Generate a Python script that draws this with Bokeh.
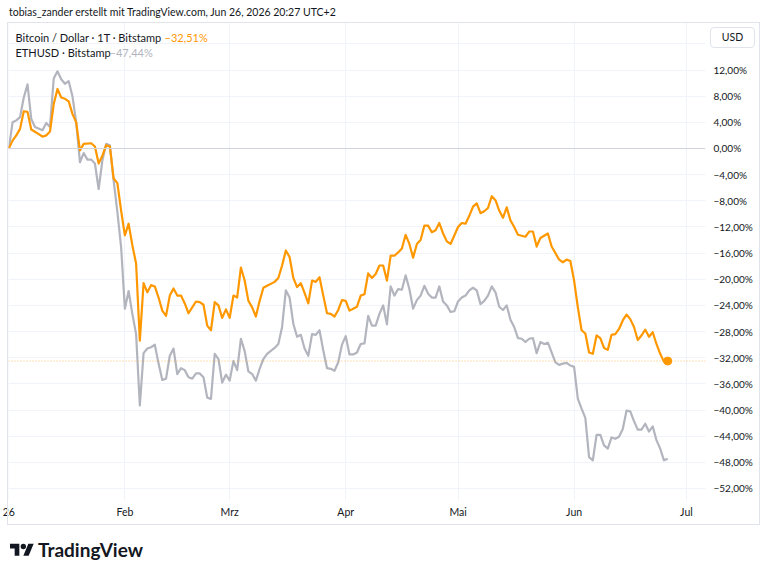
import pandas as pd
from bokeh.plotting import figure
from bokeh.layouts import column
from bokeh.models import Range1d, FixedTicker, Span, Label, ColumnDataSource, Div
from bokeh.embed import file_html
from bokeh.resources import INLINE

# ---------------- data (percent change since 2026-01-01) ----------------
START = pd.Timestamp("2026-01-01")

btc_day = [0, 1, 2, 3, 4, 5, 6, 8, 9, 10, 11, 12, 13, 14, 15, 16, 17, 18, 19, 20,
           22, 23, 24, 25, 26, 27, 28, 29, 30, 31, 32, 33, 34, 35, 36, 37, 38, 39, 40, 41,
           42, 43, 44, 45, 46, 47, 48, 49, 50, 51, 52, 53, 54, 55, 56, 57, 58, 59, 60, 61,
           62, 63, 64, 65, 66, 67, 68, 69, 71, 72, 73, 74, 75, 76, 77, 78, 79, 80, 81, 82,
           83, 84, 85, 86, 87, 88, 89, 90, 91, 92, 93, 94, 95, 96, 97, 98, 99, 100, 101, 102,
           103, 104, 105, 106, 107, 108, 109, 110, 111, 112, 113, 114, 115, 116, 117, 118, 120, 121, 122, 123,
           124, 125, 126, 127, 128, 129, 130, 131, 132, 133, 134, 135, 136, 138, 139, 140, 141, 142, 144, 145,
           147, 148, 149, 150, 151, 152, 153, 154, 155, 156, 157, 158, 159, 160, 161, 162, 163, 164, 165, 166,
           167, 168, 169, 170, 171, 172, 173, 174, 175, 176]
btc_pct = [0.0, 1.2, 2.0, 3.0, 5.7, 5.6, 2.9, 2.2, 1.8, 2.0, 2.6, 6.8, 9.1, 7.8, 7.6, 7.2, 5.3, 4.0, -0.3, 0.7,
           0.8, 0.3, -2.3, -1.1, 0.5, 0.3, -4.6, -5.3, -9.5, -13.3, -11.5, -14.8, -17.6, -29.4, -20.6, -22.0, -20.9, -21.1, -22.8, -24.8,
           -25.6, -22.5, -21.4, -22.5, -22.5, -23.7, -25.2, -24.3, -23.4, -23.5, -23.9, -27.1, -27.8, -23.5, -24.0, -25.9, -24.6, -25.9, -22.5, -22.8,
           -18.2, -20.2, -23.3, -24.3, -25.7, -23.3, -21.3, -21.0, -20.4, -19.8, -17.9, -15.6, -16.6, -19.8, -21.2, -20.6, -22.1, -23.7, -20.2, -20.4,
           -19.7, -22.5, -25.2, -25.3, -25.7, -24.7, -23.2, -23.3, -24.8, -24.5, -24.2, -22.5, -22.3, -19.1, -19.8, -19.2, -17.9, -17.9, -20.2, -16.4,
           -16.4, -15.9, -15.3, -13.2, -14.6, -16.7, -14.6, -14.0, -11.8, -11.8, -12.8, -12.5, -11.4, -13.0, -14.2, -14.6, -12.0, -11.4, -11.5, -10.3,
           -8.9, -8.4, -9.9, -9.6, -9.1, -7.3, -7.9, -9.5, -10.6, -9.0, -11.0, -12.0, -13.2, -13.5, -12.7, -12.7, -15.0, -13.7, -13.0, -15.0,
           -17.0, -17.4, -17.0, -17.2, -20.2, -24.3, -27.8, -28.3, -31.2, -31.4, -28.6, -29.0, -30.5, -30.8, -28.5, -28.4, -27.6, -26.3, -25.4, -26.1,
           -27.3, -29.3, -28.6, -27.7, -28.8, -28.1, -29.9, -31.4, -32.6, -32.51]

eth_day = [0, 1, 2, 3, 4, 5, 6, 7, 9, 10, 11, 12, 13, 14, 15, 16, 17, 18, 19, 20,
           21, 22, 23, 24, 25, 26, 27, 28, 29, 30, 31, 32, 33, 34, 35, 36, 37, 38, 39, 40,
           41, 42, 43, 44, 45, 46, 47, 48, 49, 50, 51, 52, 53, 54, 55, 56, 57, 58, 59, 60,
           61, 62, 63, 64, 65, 66, 67, 68, 69, 71, 72, 73, 74, 75, 76, 77, 78, 79, 80, 81,
           82, 83, 84, 85, 86, 87, 88, 89, 90, 91, 92, 93, 94, 95, 96, 97, 98, 99, 100, 101,
           102, 103, 104, 105, 106, 107, 108, 109, 110, 111, 112, 113, 114, 115, 116, 117, 118, 119, 120, 121,
           122, 123, 124, 125, 126, 127, 128, 129, 130, 131, 132, 133, 134, 135, 136, 137, 138, 139, 140, 141,
           142, 143, 144, 145, 146, 147, 148, 149, 150, 151, 152, 153, 154, 155, 156, 157, 158, 159, 160, 161,
           162, 163, 164, 165, 166, 167, 168, 169, 170, 171, 172, 173, 174, 175, 176]
eth_pct = [0.0, 4.0, 4.3, 4.8, 7.8, 9.8, 4.5, 3.3, 2.8, 3.9, 3.3, 10.7, 11.8, 10.6, 9.9, 10.3, 8.0, 4.0, -2.1, -0.7,
           -1.7, -1.7, -2.3, -6.2, -1.8, 0.7, 0.5, -4.9, -9.7, -15.1, -24.5, -21.8, -25.3, -28.4, -39.3, -31.3, -30.6, -30.4, -30.0, -32.9,
           -35.4, -35.2, -31.7, -30.6, -34.5, -33.6, -33.9, -35.0, -35.2, -34.4, -34.4, -35.0, -38.1, -38.3, -31.4, -32.2, -35.8, -34.6, -35.5, -32.5,
           -33.9, -29.1, -31.0, -34.1, -34.5, -35.5, -33.7, -32.2, -31.4, -30.5, -29.9, -27.3, -21.7, -22.8, -26.8, -28.8, -28.5, -30.6, -31.7, -28.4,
           -28.5, -27.8, -30.9, -33.6, -33.7, -34.0, -32.7, -30.0, -28.7, -31.5, -31.5, -31.2, -29.9, -29.8, -25.6, -27.1, -27.1, -25.3, -24.0, -26.9,
           -21.1, -22.5, -21.5, -21.6, -19.4, -21.5, -24.5, -23.2, -22.5, -21.0, -22.2, -22.8, -22.8, -21.1, -23.4, -24.0, -25.0, -24.9, -23.4, -22.8,
           -22.5, -21.7, -21.3, -21.7, -23.8, -23.3, -22.5, -21.1, -22.0, -24.2, -24.7, -24.0, -26.2, -27.3, -29.0, -29.1, -29.6, -29.1, -29.0, -31.3,
           -29.6, -29.9, -29.7, -31.2, -32.7, -33.1, -32.9, -32.8, -33.2, -33.4, -38.3, -39.8, -41.2, -47.2, -47.7, -43.8, -43.8, -45.4, -45.9, -44.2,
           -44.4, -44.1, -42.9, -40.1, -40.2, -41.7, -43.0, -43.0, -42.1, -43.3, -42.5, -44.6, -45.9, -47.7, -47.44]

month_ticks = ["2026-01-01", "2026-02-01", "2026-03-01", "2026-04-01", "2026-05-01", "2026-06-01", "2026-07-01"]
month_labels = ["26", "Feb", "Mrz", "Apr", "Mai", "Jun", "Jul"]
y_ticks = [12, 8, 4, 0, -4, -8, -12, -16, -20, -24, -28, -32, -36, -40, -44, -48, -52]
y_grid = [16] + y_ticks

btc_name = "Bitcoin / Dollar · 1T · Bitstamp"
eth_name = "ETHUSD · Bitstamp"
header = "tobias_zander erstellt mit TradingView.com, Jun 26, 2026 20:27 UTC+2"
currency = "USD"
brand = "TradingView"

ORANGE = "#FF9800"
GREY = "#B2B5BE"
TEXT = "#131722"
BORDER = "#e0e3eb"
FONT = "Lato"


def fmt_pct(v):
    s = f"{abs(v):.2f}".replace(".", ",") + "%"
    return ("\u2212" + s) if v < 0 else s


to_ms = lambda ts: int(pd.Timestamp(ts).value // 10**6)

btc_src = ColumnDataSource(dict(x=[START + pd.Timedelta(days=d) for d in btc_day], y=btc_pct))
eth_src = ColumnDataSource(dict(x=[START + pd.Timedelta(days=d) for d in eth_day], y=eth_pct))
last_src = ColumnDataSource(dict(x=[START + pd.Timedelta(days=btc_day[-1])], y=[btc_pct[-1]]))

# ---------------- chart (frame spans page y 22..500, x 8..705) ----------------
p = figure(width=768, height=502, x_axis_type="datetime", y_axis_location="right",
           output_backend="svg", toolbar_location=None, margin=0,
           min_border_left=8, min_border_right=63, min_border_top=0, min_border_bottom=24,
           background_fill_color="white", border_fill_color="white", outline_line_color=None)

p.x_range = Range1d(START - pd.Timedelta(hours=2), START + pd.Timedelta(days=186.1))
p.y_range = Range1d(-53.84, 19.27)

p.ygrid.ticker = FixedTicker(ticks=y_grid)
p.ygrid.grid_line_color = "#f0f3fa"
p.xgrid.ticker = FixedTicker(ticks=[to_ms(t) for t in month_ticks])
p.xgrid.grid_line_color = "#f0f3fa"

xa = p.xaxis[0]
xa.ticker = FixedTicker(ticks=[to_ms(t) for t in month_ticks])
xa.major_label_overrides = {to_ms(t): lab for t, lab in zip(month_ticks, month_labels)}
xa.axis_line_color = None
xa.major_tick_line_color = None
xa.minor_tick_line_color = None
xa.major_tick_out = 0
xa.major_label_standoff = 5
xa.major_label_text_font = FONT
xa.major_label_text_font_size = "10.5px"
xa.major_label_text_color = TEXT

ya = p.yaxis[0]
ya.ticker = FixedTicker(ticks=y_ticks)
ya.major_label_overrides = {t: fmt_pct(t) for t in y_ticks}
ya.axis_line_color = None
ya.major_tick_line_color = None
ya.minor_tick_line_color = None
ya.major_tick_out = 0
ya.major_label_standoff = 8
ya.major_label_text_font = FONT
ya.major_label_text_font_size = "10px"
ya.major_label_text_color = TEXT

p.add_layout(Span(location=0, dimension="width", line_color="#d1d4dc", line_width=1))
p.add_layout(Span(location=btc_pct[-1], dimension="width", line_color=ORANGE,
                  line_alpha=0.6, line_width=1, line_dash="1 2"))

p.line("x", "y", source=eth_src, line_color=GREY, line_width=2.2, line_join="round")
p.line("x", "y", source=btc_src, line_color=ORANGE, line_width=2.2, line_join="round")
p.scatter("x", "y", source=last_src, size=8, fill_color=ORANGE, line_color=ORANGE)


def mk(x, y, text, color=TEXT):
    return Label(x=x, y=y, x_units="screen", y_units="screen", text=text,
                 text_font=FONT, text_font_size="11px", text_color=color,
                 text_align="left", text_baseline="middle")


p.add_layout(mk(7, 463.5, btc_name))
p.add_layout(mk(156, 463.5, fmt_pct(btc_pct[-1]), ORANGE))
p.add_layout(mk(7, 448.5, eth_name))
p.add_layout(mk(101, 448.5, fmt_pct(eth_pct[-1]), GREY))

# ---------------- header (with currency box and outer frame) ----------------
font_css = f"font-family:{FONT};color:{TEXT};white-space:nowrap;"
header_html = (
    '<div style="position:relative;width:768px;height:22px;">'
    f'<div style="position:absolute;left:9px;top:5px;font-size:10.5px;line-height:15px;{font_css}">{header}</div>'
    f'<div style="position:absolute;left:7px;top:22px;width:753px;height:503px;border:1px solid {BORDER};'
    'box-sizing:border-box;pointer-events:none;"></div>'
    f'<div style="position:absolute;left:710px;top:27px;width:45px;height:21px;border:1px solid {BORDER};'
    f'border-radius:4px;box-sizing:border-box;background:white;text-align:center;font-size:10.5px;'
    f'line-height:19px;{font_css}">{currency}</div>'
    '</div>'
)
head = Div(text=header_html, width=768, height=22, margin=0,
           styles={"overflow": "visible", "position": "relative", "z-index": "5"})

# ---------------- footer logo ----------------
footer_html = (
    '<div style="position:relative;width:768px;height:52px;">'
    '<svg style="position:absolute;left:10px;top:17px" width="24" height="19" viewBox="0 0 36 28">'
    f'<path d="M14 22H7V11H0V4h14v18zM28 22h-8l7.5-18h8L28 22z" fill="{TEXT}"/>'
    f'<circle cx="20" cy="8" r="4" fill="{TEXT}"/></svg>'
    f'<div style="position:absolute;left:38px;top:14px;font-size:19px;font-weight:bold;line-height:24px;{font_css}">{brand}</div>'
    '</div>'
)
foot = Div(text=footer_html, width=768, height=52, margin=0)

layout = column(head, p, foot, spacing=0, margin=0)
open("out.html", "w").write(file_html(layout, INLINE))
